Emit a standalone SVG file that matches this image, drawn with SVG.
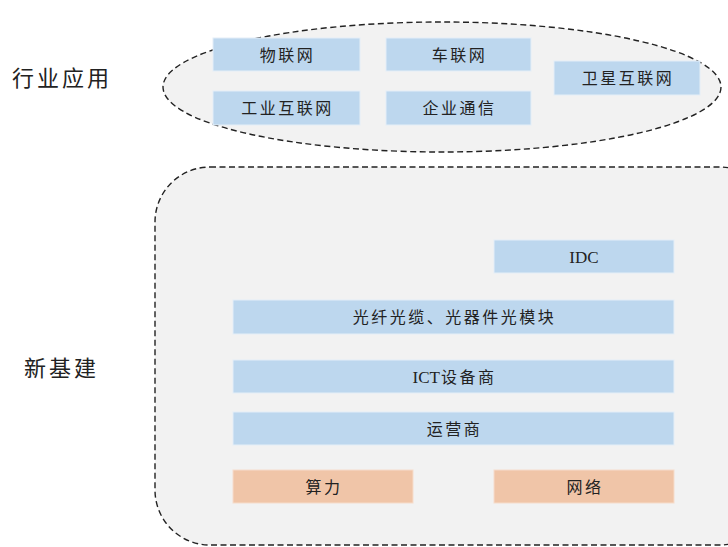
<svg xmlns="http://www.w3.org/2000/svg" width="728" height="547" viewBox="0 0 728 547">
<style>
.grp{fill:#F2F2F2;stroke:#222;stroke-width:1.4;stroke-dasharray:6,3.5}
.b{fill:#BDD7EE;stroke:#E4EEF7;stroke-width:1}
.o{fill:#F0C5A8;stroke:#F6DCCB;stroke-width:1}
text{font-family:"Liberation Serif","Noto Sans CJK SC",serif;fill:#222;text-anchor:middle;dominant-baseline:central}
.t{font-size:16px;letter-spacing:2.5px}
.h{font-size:22px;letter-spacing:3px;text-anchor:start}
</style>
<rect width="728" height="547" fill="#fff"/>
<g id="app-group">
<ellipse class="grp" cx="442" cy="87" rx="279" ry="65"/>
</g>
<g id="infra-group">
<rect class="grp" x="155" y="167" width="620" height="378" rx="55" ry="55"/>
</g>
<g id="label-app"><text class="h" x="12" y="78">行业应用</text></g>
<g id="label-infra"><text class="h" x="24" y="368">新基建</text></g>
<g id="n1"><rect class="b" x="213" y="38" width="147" height="33"/><text class="t" x="287.5" y="55">物联网</text></g>
<g id="n2"><rect class="b" x="386" y="38" width="145" height="33"/><text class="t" x="459.5" y="55">车联网</text></g>
<g id="n3"><rect class="b" x="554" y="61" width="146" height="34"/><text class="t" x="628" y="78">卫星互联网</text></g>
<g id="n4"><rect class="b" x="213" y="91" width="147" height="34"/><text class="t" x="287.5" y="108">工业互联网</text></g>
<g id="n5"><rect class="b" x="386" y="91" width="145" height="34"/><text class="t" x="459.5" y="108">企业通信</text></g>
<g id="n6"><rect class="b" x="494" y="240" width="180" height="33"/><text class="t" x="584" y="257" style="letter-spacing:0;font-size:17px">IDC</text></g>
<g id="n7"><rect class="b" x="233" y="300" width="441" height="34"/><text class="t" x="454.5" y="317">光纤光缆、光器件光模块</text></g>
<g id="n8"><rect class="b" x="233" y="360" width="441" height="33"/><text class="t" x="454.5" y="377" style="letter-spacing:0;font-size:17px">ICT<tspan style="font-size:16px;letter-spacing:2.5px" dx="1">设备商</tspan></text></g>
<g id="n9"><rect class="b" x="233" y="412" width="441" height="33"/><text class="t" x="454.5" y="429">运营商</text></g>
<g id="n10"><rect class="o" x="233" y="470" width="180" height="33"/><text class="t" x="324" y="487">算力</text></g>
<g id="n11"><rect class="o" x="494" y="470" width="180" height="33"/><text class="t" x="585" y="487">网络</text></g>
<g id="connectors"></g>
</svg>
